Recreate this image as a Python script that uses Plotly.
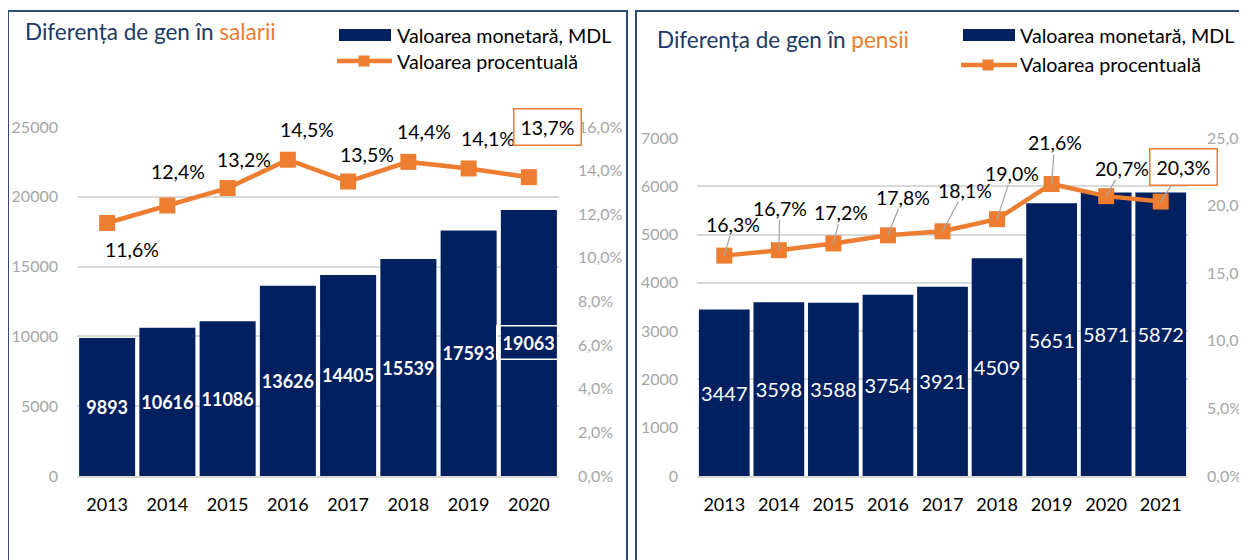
import plotly.graph_objects as go

W, H = 1247, 560
OX, OY = 8, 8  # page offset of the plot div (browser body margin)

# ---------------- data ----------------
years_sal = ["2013", "2014", "2015", "2016", "2017", "2018", "2019", "2020"]
sal_mdl = [9893, 10616, 11086, 13626, 14405, 15539, 17593, 19063]
sal_pct = [11.6, 12.4, 13.2, 14.5, 13.5, 14.4, 14.1, 13.7]

years_pen = ["2013", "2014", "2015", "2016", "2017", "2018", "2019", "2020", "2021"]
pen_mdl = [3447, 3598, 3588, 3754, 3921, 4509, 5651, 5871, 5872]
pen_pct = [16.3, 16.7, 17.2, 17.8, 18.1, 19.0, 21.6, 20.7, 20.3]

sal_ticks = [0, 5000, 10000, 15000, 20000, 25000]
sal_pct_ticks = [0, 2, 4, 6, 8, 10, 12, 14, 16]
pen_ticks = [0, 1000, 2000, 3000, 4000, 5000, 6000, 7000]
pen_pct_ticks = [0, 5, 10, 15, 20, 25]

title_sal = "Diferența de gen în "
title_sal_hl = "salarii"
title_pen = "Diferența de gen în "
title_pen_hl = "pensii"
legend_bar = "Valoarea monetară, MDL"
legend_line = "Valoarea procentuală"

# ---------------- styles ----------------
FONT = "Lato, Carlito, Calibri, 'Noto Sans', sans-serif"
NAVY = "#002060"
ORANGE = "#ED7D31"
TITLE_C = "#203864"
GRID = "#D9D9D9"
TICK_C = "#A6A6A6"
BORDER = "#2F4B7C"

# label offsets (pixels) for percent labels
sal_lbl_dx = [25, 11, 16, 19, 19, 16, 19, 19]
sal_lbl_dy = [-27, 34, 29, 30, 27, 30, 30, 50]
pen_lbl_ax = [9, 1, 8, 15, 22, 15, 3, 16, 23]
pen_lbl_ay = [-31, -42, -31, -38, -41, -46, -41, -28, -35]


def px(x):
    return (x - OX) / W


def py(y):
    return 1 - (y - OY) / H


def pct_txt(v):
    return f"{v:.1f}".replace(".", ",") + "%"


xs_sal = list(range(len(years_sal)))
xs_pen = list(range(len(years_pen)))

fig = go.Figure()

# --- left: salaries ---
fig.add_trace(go.Bar(
    x=xs_sal, y=sal_mdl, xaxis="x", yaxis="y",
    marker=dict(color=NAVY, line=dict(width=0)),
    text=[str(v) for v in sal_mdl[:-1]] + [""],
    textposition="inside", insidetextanchor="middle", constraintext="none", textangle=0,
    textfont=dict(family=FONT, size=18, color="white", weight="bold"),
    name=legend_bar, showlegend=False,
))
fig.add_trace(go.Scatter(
    x=xs_sal, y=sal_pct, xaxis="x", yaxis="y2",
    mode="lines+markers",
    line=dict(color=ORANGE, width=4.5),
    marker=dict(symbol="square", size=16, color=ORANGE),
    name=legend_line, showlegend=False, cliponaxis=False,
))

# --- right: pensions ---
fig.add_trace(go.Bar(
    x=xs_pen, y=pen_mdl, xaxis="x2", yaxis="y3",
    marker=dict(color=NAVY, line=dict(width=0)),
    text=[str(v) for v in pen_mdl],
    textposition="inside", insidetextanchor="middle", constraintext="none", textangle=0,
    textfont=dict(family=FONT, size=20, color="white"),
    name=legend_bar, showlegend=False,
))
fig.add_trace(go.Scatter(
    x=xs_pen, y=pen_pct, xaxis="x2", yaxis="y4",
    mode="lines+markers",
    line=dict(color=ORANGE, width=4.5),
    marker=dict(symbol="square", size=16, color=ORANGE),
    name=legend_line, showlegend=False, cliponaxis=False,
))

annotations = []
# percent labels left
for i, v in enumerate(sal_pct):
    boxed = i == len(sal_pct) - 1
    annotations.append(dict(
        x=xs_sal[i], y=v, xref="x", yref="y2", text=pct_txt(v), showarrow=False,
        xshift=sal_lbl_dx[i], yshift=sal_lbl_dy[i],
        font=dict(family=FONT, size=19.5, color="black"),
        bordercolor=ORANGE if boxed else "rgba(0,0,0,0)", borderwidth=1.5 if boxed else 0,
        borderpad=6 if boxed else 0, bgcolor="white" if boxed else "rgba(0,0,0,0)",
    ))
# boxed bar label 2020
annotations.append(dict(
    x=xs_sal[-1], y=sal_mdl[-1] / 2, xref="x", yref="y",
    text=str(sal_mdl[-1]), showarrow=False,
    font=dict(family=FONT, size=18, color="white", weight="bold"),
    bordercolor="white", borderwidth=1.5, borderpad=5,
))
# percent labels right with leader lines
for i, v in enumerate(pen_pct):
    boxed = i == len(pen_pct) - 1
    annotations.append(dict(
        x=xs_pen[i], y=v, xref="x2", yref="y4", text=pct_txt(v), showarrow=True,
        arrowhead=0, arrowwidth=1.3, arrowcolor="#A6A6A6",
        ax=pen_lbl_ax[i], ay=pen_lbl_ay[i],
        font=dict(family=FONT, size=19.5, color="black"),
        bordercolor=ORANGE if boxed else "rgba(0,0,0,0)", borderwidth=1.5 if boxed else 0,
        borderpad=6 if boxed else 0, bgcolor="white" if boxed else "rgba(0,0,0,0)",
    ))

# titles
annotations.append(dict(
    x=px(23), y=py(32), xref="paper", yref="paper", xanchor="left", yanchor="middle",
    text=f"{title_sal}<span style='color:{ORANGE}'>{title_sal_hl}</span>",
    showarrow=False, font=dict(family=FONT, size=22.5, color=TITLE_C),
))
annotations.append(dict(
    x=px(655), y=py(39), xref="paper", yref="paper", xanchor="left", yanchor="middle",
    text=f"{title_pen}<span style='color:{ORANGE}'>{title_pen_hl}</span>",
    showarrow=False, font=dict(family=FONT, size=22.5, color=TITLE_C),
))

shapes = []
# panel borders
shapes.append(dict(type="rect", xref="paper", yref="paper",
                   x0=px(8), x1=px(627), y0=-0.1, y1=py(11),
                   line=dict(color=BORDER, width=2), fillcolor="rgba(0,0,0,0)", layer="below"))
shapes.append(dict(type="rect", xref="paper", yref="paper",
                   x0=px(636), x1=1.1, y0=-0.1, y1=py(11),
                   line=dict(color=BORDER, width=2), fillcolor="rgba(0,0,0,0)", layer="below"))


def add_legend(x_rect0, x_rect1, y_bar, x_line0, x_line1, y_line, x_mark, x_text):
    shapes.append(dict(type="rect", xref="paper", yref="paper",
                       x0=px(x_rect0), x1=px(x_rect1), y0=py(y_bar + 6), y1=py(y_bar - 6),
                       fillcolor=NAVY, line=dict(width=0)))
    shapes.append(dict(type="line", xref="paper", yref="paper",
                       x0=px(x_line0), x1=px(x_line1), y0=py(y_line), y1=py(y_line),
                       line=dict(color=ORANGE, width=4.5)))
    shapes.append(dict(type="rect", xref="paper", yref="paper",
                       x0=px(x_mark - 5.5), x1=px(x_mark + 5.5), y0=py(y_line + 5.5), y1=py(y_line - 5.5),
                       fillcolor=ORANGE, line=dict(width=0)))
    annotations.append(dict(x=px(x_text), y=py(y_bar), xref="paper", yref="paper",
                            xanchor="left", yanchor="middle", text=legend_bar, showarrow=False,
                            font=dict(family=FONT, size=19.7, color="black")))
    annotations.append(dict(x=px(x_text), y=py(y_line), xref="paper", yref="paper",
                            xanchor="left", yanchor="middle", text=legend_line, showarrow=False,
                            font=dict(family=FONT, size=19.7, color="black")))


add_legend(339, 391, 35, 337, 392, 61, 364, 395)
add_legend(963, 1015, 35, 961, 1017, 65, 988, 1018)


def xaxis_cfg(domain, anchor, xs, labels):
    return dict(domain=domain, anchor=anchor, type="linear", range=[-0.5, len(xs) - 0.5],
                tickmode="array", tickvals=xs, ticktext=labels,
                showgrid=False, zeroline=False, showline=True, linecolor=GRID, linewidth=1.5,
                ticks="", tickfont=dict(family=FONT, size=18, color="black"),
                ticklabelstandoff=12, fixedrange=True, automargin=False)


def yaxis_cfg(domain, anchor, ticks, labels, rng):
    return dict(domain=domain, anchor=anchor, range=rng,
                tickmode="array", tickvals=ticks, ticktext=labels,
                showgrid=True, gridcolor=GRID, gridwidth=1.5, zeroline=False, showline=False,
                ticks="", tickfont=dict(family=FONT, size=16, color=TICK_C),
                ticklabelstandoff=18, fixedrange=True, automargin=False)


def y2axis_cfg(overlay, anchor, ticks, rng):
    return dict(overlaying=overlay, side="right", anchor=anchor, range=rng,
                tickmode="array", tickvals=ticks, ticktext=[pct_txt(t) for t in ticks],
                showgrid=False, zeroline=False, showline=False,
                ticks="", tickfont=dict(family=FONT, size=16, color=TICK_C),
                ticklabelstandoff=18, fixedrange=True, automargin=False)


fig.update_layout(
    template="none",
    width=W, height=H, margin=dict(l=0, r=0, t=0, b=0, pad=0, autoexpand=False),
    paper_bgcolor="white", plot_bgcolor="rgba(0,0,0,0)",
    bargap=0.07,
    font=dict(family=FONT),
    xaxis=xaxis_cfg([px(77), px(559)], "y", xs_sal, years_sal),
    yaxis=yaxis_cfg([py(476), py(127)], "x", sal_ticks, [str(t) for t in sal_ticks], [0, 25000]),
    yaxis2=y2axis_cfg("y", "x", sal_pct_ticks, [0, 16]),
    xaxis2=xaxis_cfg([px(697), px(1188)], "y3", xs_pen, years_pen),
    yaxis3=yaxis_cfg([py(476), py(138)], "x2", pen_ticks, [str(t) for t in pen_ticks], [0, 7000]),
    yaxis4=y2axis_cfg("y3", "x2", pen_pct_ticks, [0, 25]),
    annotations=annotations,
    shapes=shapes,
    showlegend=False,
)

fig.write_html("out.html")
